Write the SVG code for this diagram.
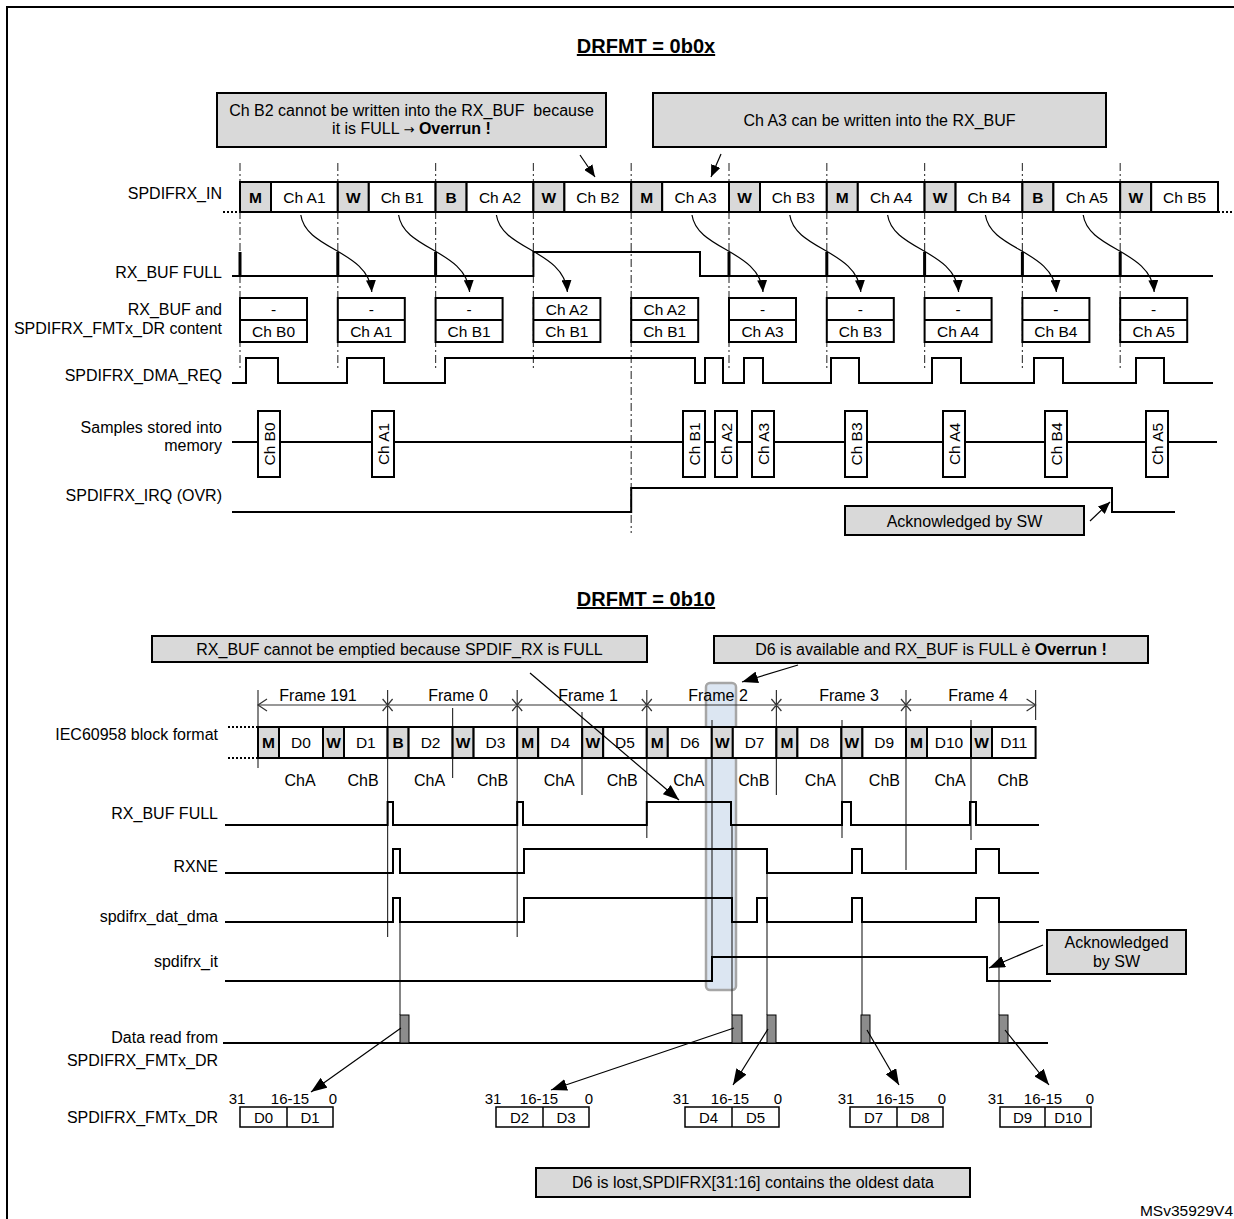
<svg xmlns="http://www.w3.org/2000/svg" width="1234" height="1219" viewBox="0 0 1234 1219">
<style>
text{font-family:"Liberation Sans",Arial,sans-serif;font-size:16px;fill:#000}
.lbl{text-anchor:end}
.c{text-anchor:middle;font-size:15.5px}
.b{font-weight:bold}
.ttl{text-anchor:middle;font-size:20px;font-weight:bold;text-decoration:underline}
.cell{fill:#fff;stroke:#000;stroke-width:2}
.pre{fill:#d9d9d9;stroke:#000;stroke-width:2}
.note{fill:#d9d9d9;stroke:#000;stroke-width:2}
.sig{fill:none;stroke:#000;stroke-width:2}
.spk{stroke:#000;stroke-width:3}
.dd{stroke:#444;stroke-width:1.2;stroke-dasharray:8 3 2 3}
.vl{stroke:#333;stroke-width:1.2}
.dot{stroke:#000;stroke-width:2;stroke-dasharray:2 2}
.arr{fill:none;stroke:#000;stroke-width:1.2;marker-end:url(#ah)}
.arr2{fill:none;stroke:#000;stroke-width:1.2;marker-end:url(#ah2)}
.rd{fill:#8c8c8c;stroke:#000;stroke-width:1}
.n{text-anchor:middle;font-size:15px}
</style>
<defs>
<marker id="ah" viewBox="0 0 12 10" refX="12" refY="5" markerWidth="12" markerHeight="10" markerUnits="userSpaceOnUse" orient="auto"><path d="M0,0 L12,5 L0,10 z" fill="#000"/></marker>
<marker id="ah2" viewBox="0 0 16 12" refX="16" refY="6" markerWidth="16" markerHeight="12" markerUnits="userSpaceOnUse" orient="auto"><path d="M0,0 L16,6 L0,12 z" fill="#000"/></marker>
</defs>
<rect x="0" y="0" width="1234" height="1219" fill="#fff"/>
<rect id="frame" x="7" y="7" width="1240" height="1240" fill="none" stroke="#000" stroke-width="2"/>

<!-- ================= TOP: DRFMT = 0b0x ================= -->
<g id="title-top"><text class="ttl" x="646" y="53">DRFMT = 0b0x</text></g>

<g id="note-b2">
<rect class="note" x="217" y="93" width="389" height="54"/>
<text class="c" x="411.5" y="116" style="font-size:16px" xml:space="preserve">Ch B2 cannot be written into the RX_BUF  because</text>
<text class="c" x="411.5" y="134" style="font-size:16px">it is FULL <tspan style="font-family:'DejaVu Sans',sans-serif;font-size:13px">→</tspan> <tspan class="b">Overrun !</tspan></text>
</g>
<g id="note-a3">
<rect class="note" x="653" y="93" width="453" height="54"/>
<text class="c" x="879.5" y="125.5" style="font-size:16px">Ch A3 can be written into the RX_BUF</text>
</g>

<g id="labels-top">
<text class="lbl" x="222" y="199">SPDIFRX_IN</text>
<text class="lbl" x="222" y="277.5">RX_BUF FULL</text>
<text class="lbl" x="222" y="314.5">RX_BUF and</text>
<text class="lbl" x="222" y="333.5">SPDIFRX_FMTx_DR content</text>
<text class="lbl" x="222" y="380.5">SPDIFRX_DMA_REQ</text>
<text class="lbl" x="222" y="432.5">Samples stored into</text>
<text class="lbl" x="222" y="450.5">memory</text>
<text class="lbl" x="222" y="500.5">SPDIFRX_IRQ (OVR)</text>
</g>

<g id="dashdot-top">
<line class="dd" x1="240" y1="163" x2="240" y2="370"/>
<line class="dd" x1="337.8" y1="163" x2="337.8" y2="370"/>
<line class="dd" x1="435.6" y1="163" x2="435.6" y2="370"/>
<line class="dd" x1="533.4" y1="163" x2="533.4" y2="370"/>
<line class="dd" x1="631.2" y1="163" x2="631.2" y2="533"/>
<line class="dd" x1="729" y1="163" x2="729" y2="370"/>
<line class="dd" x1="826.8" y1="163" x2="826.8" y2="370"/>
<line class="dd" x1="924.6" y1="163" x2="924.6" y2="370"/>
<line class="dd" x1="1022.4" y1="163" x2="1022.4" y2="370"/>
<line class="dd" x1="1120.2" y1="163" x2="1120.2" y2="370"/>
</g>

<g id="spdifrx-in">
<line class="dot" x1="223" y1="212" x2="240" y2="212"/>
<line class="dot" x1="1218" y1="212" x2="1234" y2="212"/>
<rect class="pre" x="240" y="182" width="31" height="30"/><text class="c b" x="255.5" y="202.5">M</text>
<rect class="cell" x="271" y="182" width="66.8" height="30"/><text class="c" x="304.4" y="202.5">Ch A1</text>
<rect class="pre" x="337.8" y="182" width="31" height="30"/><text class="c b" x="353.3" y="202.5">W</text>
<rect class="cell" x="368.8" y="182" width="66.8" height="30"/><text class="c" x="402.2" y="202.5">Ch B1</text>
<rect class="pre" x="435.6" y="182" width="31" height="30"/><text class="c b" x="451.1" y="202.5">B</text>
<rect class="cell" x="466.6" y="182" width="66.8" height="30"/><text class="c" x="500" y="202.5">Ch A2</text>
<rect class="pre" x="533.4" y="182" width="31" height="30"/><text class="c b" x="548.9" y="202.5">W</text>
<rect class="cell" x="564.4" y="182" width="66.8" height="30"/><text class="c" x="597.8" y="202.5">Ch B2</text>
<rect class="pre" x="631.2" y="182" width="31" height="30"/><text class="c b" x="646.7" y="202.5">M</text>
<rect class="cell" x="662.2" y="182" width="66.8" height="30"/><text class="c" x="695.6" y="202.5">Ch A3</text>
<rect class="pre" x="729" y="182" width="31" height="30"/><text class="c b" x="744.5" y="202.5">W</text>
<rect class="cell" x="760" y="182" width="66.8" height="30"/><text class="c" x="793.4" y="202.5">Ch B3</text>
<rect class="pre" x="826.8" y="182" width="31" height="30"/><text class="c b" x="842.3" y="202.5">M</text>
<rect class="cell" x="857.8" y="182" width="66.8" height="30"/><text class="c" x="891.2" y="202.5">Ch A4</text>
<rect class="pre" x="924.6" y="182" width="31" height="30"/><text class="c b" x="940.1" y="202.5">W</text>
<rect class="cell" x="955.6" y="182" width="66.8" height="30"/><text class="c" x="989" y="202.5">Ch B4</text>
<rect class="pre" x="1022.4" y="182" width="31" height="30"/><text class="c b" x="1037.9" y="202.5">B</text>
<rect class="cell" x="1053.4" y="182" width="66.8" height="30"/><text class="c" x="1086.8" y="202.5">Ch A5</text>
<rect class="pre" x="1120.2" y="182" width="31" height="30"/><text class="c b" x="1135.7" y="202.5">W</text>
<rect class="cell" x="1151.2" y="182" width="66.8" height="30"/><text class="c" x="1184.6" y="202.5">Ch B5</text>
</g>

<g id="rxbuf-full-top">
<path class="sig" d="M232,276 H533.4 V252 H700 V276 H1213"/>
<line class="spk" x1="240" y1="252" x2="240" y2="276"/>
<line class="spk" x1="337.8" y1="252" x2="337.8" y2="276"/>
<line class="spk" x1="435.6" y1="252" x2="435.6" y2="276"/>
<line class="spk" x1="729" y1="252" x2="729" y2="276"/>
<line class="spk" x1="826.8" y1="252" x2="826.8" y2="276"/>
<line class="spk" x1="924.6" y1="252" x2="924.6" y2="276"/>
<line class="spk" x1="1022.4" y1="252" x2="1022.4" y2="276"/>
<line class="spk" x1="1120.2" y1="252" x2="1120.2" y2="276"/>
</g>

<g id="rxbuf-content">
<g><rect class="cell" x="240" y="298" width="67" height="44"/><line class="sig" x1="240" y1="320" x2="307" y2="320"/><text class="c" x="273.5" y="314.5">-</text><text class="c" x="273.5" y="336.5">Ch B0</text></g>
<g><rect class="cell" x="337.8" y="298" width="67" height="44"/><line class="sig" x1="337.8" y1="320" x2="404.8" y2="320"/><text class="c" x="371.3" y="314.5">-</text><text class="c" x="371.3" y="336.5">Ch A1</text></g>
<g><rect class="cell" x="435.6" y="298" width="67" height="44"/><line class="sig" x1="435.6" y1="320" x2="502.6" y2="320"/><text class="c" x="469.1" y="314.5">-</text><text class="c" x="469.1" y="336.5">Ch B1</text></g>
<g><rect class="cell" x="533.4" y="298" width="67" height="44"/><line class="sig" x1="533.4" y1="320" x2="600.4" y2="320"/><text class="c" x="566.9" y="314.5">Ch A2</text><text class="c" x="566.9" y="336.5">Ch B1</text></g>
<g><rect class="cell" x="631.2" y="298" width="67" height="44"/><line class="sig" x1="631.2" y1="320" x2="698.2" y2="320"/><text class="c" x="664.7" y="314.5">Ch A2</text><text class="c" x="664.7" y="336.5">Ch B1</text></g>
<g><rect class="cell" x="729" y="298" width="67" height="44"/><line class="sig" x1="729" y1="320" x2="796" y2="320"/><text class="c" x="762.5" y="314.5">-</text><text class="c" x="762.5" y="336.5">Ch A3</text></g>
<g><rect class="cell" x="826.8" y="298" width="67" height="44"/><line class="sig" x1="826.8" y1="320" x2="893.8" y2="320"/><text class="c" x="860.3" y="314.5">-</text><text class="c" x="860.3" y="336.5">Ch B3</text></g>
<g><rect class="cell" x="924.6" y="298" width="67" height="44"/><line class="sig" x1="924.6" y1="320" x2="991.6" y2="320"/><text class="c" x="958.1" y="314.5">-</text><text class="c" x="958.1" y="336.5">Ch A4</text></g>
<g><rect class="cell" x="1022.4" y="298" width="67" height="44"/><line class="sig" x1="1022.4" y1="320" x2="1089.4" y2="320"/><text class="c" x="1055.9" y="314.5">-</text><text class="c" x="1055.9" y="336.5">Ch B4</text></g>
<g><rect class="cell" x="1120.2" y="298" width="67" height="44"/><line class="sig" x1="1120.2" y1="320" x2="1187.2" y2="320"/><text class="c" x="1153.7" y="314.5">-</text><text class="c" x="1153.7" y="336.5">Ch A5</text></g>
</g>

<g id="dma-req">
<path class="sig" d="M232,383 H246 V358 H278 V383 H347 V358 H384 V383 H445 V358 H695 V383 H705 V358 H723 V383 H744 V358 H763 V383 H831 V358 H859 V383 H932 V358 H961 V383 H1034 V358 H1063 V383 H1136 V358 H1164 V383 H1213"/>
</g>

<g id="samples">
<line class="sig" x1="232" y1="442" x2="1217" y2="442"/>
<g><rect class="cell" x="258" y="411" width="22" height="66"/><text class="c" transform="translate(269,444) rotate(-90)" y="5.5">Ch B0</text></g>
<g><rect class="cell" x="372" y="411" width="22" height="66"/><text class="c" transform="translate(383,444) rotate(-90)" y="5.5">Ch A1</text></g>
<g><rect class="cell" x="683" y="411" width="22" height="66"/><text class="c" transform="translate(694,444) rotate(-90)" y="5.5">Ch B1</text></g>
<g><rect class="cell" x="715" y="411" width="22" height="66"/><text class="c" transform="translate(726,444) rotate(-90)" y="5.5">Ch A2</text></g>
<g><rect class="cell" x="752" y="411" width="22" height="66"/><text class="c" transform="translate(763,444) rotate(-90)" y="5.5">Ch A3</text></g>
<g><rect class="cell" x="845" y="411" width="22" height="66"/><text class="c" transform="translate(856,444) rotate(-90)" y="5.5">Ch B3</text></g>
<g><rect class="cell" x="943" y="411" width="22" height="66"/><text class="c" transform="translate(954,444) rotate(-90)" y="5.5">Ch A4</text></g>
<g><rect class="cell" x="1045" y="411" width="22" height="66"/><text class="c" transform="translate(1056,444) rotate(-90)" y="5.5">Ch B4</text></g>
<g><rect class="cell" x="1146" y="411" width="22" height="66"/><text class="c" transform="translate(1157,444) rotate(-90)" y="5.5">Ch A5</text></g>
</g>

<g id="irq">
<path class="sig" d="M232,512 H631.2 V488 H1112 V512 H1175"/>
</g>

<g id="note-ack-top">
<rect class="note" x="845" y="506" width="239" height="29"/>
<text class="c" x="964.5" y="526.5" style="font-size:16px">Acknowledged by SW</text>
</g>

<!-- ================= BOTTOM: DRFMT = 0b10 ================= -->
<g id="title-bottom"><text class="ttl" x="646" y="606">DRFMT = 0b10</text></g>

<g id="highlight"><rect x="706" y="683" width="30" height="307" rx="4" fill="#dce6f2" stroke="#a6a6a6" stroke-width="2.5"/></g>

<g id="note-empty">
<rect class="note" x="152" y="636" width="495" height="26"/>
<text class="c" x="399.5" y="654.5" style="font-size:16px">RX_BUF cannot be emptied because SPDIF_RX is FULL</text>
</g>
<g id="note-d6">
<rect class="note" x="714" y="636" width="434" height="27"/>
<text class="c" x="931" y="655" style="font-size:16px">D6 is available and RX_BUF is FULL è <tspan class="b">Overrun !</tspan></text>
</g>

<g id="labels-bottom">
<text class="lbl" x="218" y="740">IEC60958 block format</text>
<text class="lbl" x="218" y="818.5">RX_BUF FULL</text>
<text class="lbl" x="218" y="871.5">RXNE</text>
<text class="lbl" x="218" y="922">spdifrx_dat_dma</text>
<text class="lbl" x="218" y="967">spdifrx_it</text>
<text class="lbl" x="218" y="1043">Data read from</text>
<text class="lbl" x="218" y="1066">SPDIFRX_FMTx_DR</text>
<text class="lbl" x="218" y="1122.5">SPDIFRX_FMTx_DR</text>
</g>

<g id="frames">
<text class="c" x="318" y="701" style="font-size:16px">Frame 191</text>
<text class="c" x="458" y="701" style="font-size:16px">Frame 0</text>
<text class="c" x="588" y="701" style="font-size:16px">Frame 1</text>
<text class="c" x="718" y="701" style="font-size:16px">Frame 2</text>
<text class="c" x="849" y="701" style="font-size:16px">Frame 3</text>
<text class="c" x="978" y="701" style="font-size:16px">Frame 4</text>
<line class="vl" x1="258" y1="705" x2="1035.6" y2="705"/>
<path class="vl" fill="none" d="M267,699 L258,705 L267,711 M1026.6,699 L1035.6,705 L1026.6,711"/>
<path class="vl" fill="none" d="M382.6,699 L392.6,711 M382.6,711 L392.6,699 M512.2,699 L522.2,711 M512.2,711 L522.2,699 M641.8,699 L651.8,711 M641.8,711 L651.8,699 M771.4,699 L781.4,711 M771.4,711 L781.4,699 M901,699 L911,711 M901,711 L911,699"/>
</g>

<g id="vlines-bottom">
<line class="vl" x1="258" y1="690" x2="258" y2="768"/>
<line class="vl" x1="387.6" y1="690" x2="387.6" y2="937"/>
<line class="vl" x1="452.6" y1="708" x2="452.6" y2="778"/>
<line class="vl" x1="517.2" y1="690" x2="517.2" y2="937"/>
<line class="vl" x1="582" y1="712" x2="582" y2="795"/>
<line class="vl" x1="646.8" y1="690" x2="646.8" y2="838"/>
<line class="vl" x1="712" y1="720" x2="712" y2="957"/>
<line class="vl" x1="732" y1="825" x2="732" y2="1015"/>
<line class="vl" x1="776.4" y1="690" x2="776.4" y2="795"/>
<line class="vl" x1="842" y1="720" x2="842" y2="838"/>
<line class="vl" x1="906" y1="690" x2="906" y2="870"/>
<line class="vl" x1="971" y1="720" x2="971" y2="840"/>
<line class="vl" x1="1035.6" y1="690" x2="1035.6" y2="720"/>
<line class="vl" x1="400" y1="898" x2="400" y2="1015"/>
<line class="vl" x1="767" y1="873" x2="767" y2="1015"/>
<line class="vl" x1="862" y1="898" x2="862" y2="1015"/>
<line class="vl" x1="999" y1="898" x2="999" y2="1015"/>
</g>

<g id="iec-block">
<line class="dot" x1="228" y1="727" x2="258" y2="727"/>
<line class="dot" x1="228" y1="758" x2="258" y2="758"/>
<rect class="pre" x="258" y="727" width="21" height="31"/><text class="c b" x="268.5" y="748">M</text>
<rect class="cell" x="279" y="727" width="44" height="31"/><text class="c" x="301" y="748">D0</text>
<rect class="pre" x="323" y="727" width="21" height="31"/><text class="c b" x="333.5" y="748">W</text>
<rect class="cell" x="344" y="727" width="43.6" height="31"/><text class="c" x="365.8" y="748">D1</text>
<rect class="pre" x="387.6" y="727" width="21" height="31"/><text class="c b" x="398.1" y="748">B</text>
<rect class="cell" x="408.6" y="727" width="44" height="31"/><text class="c" x="430.6" y="748">D2</text>
<rect class="pre" x="452.6" y="727" width="21" height="31"/><text class="c b" x="463.1" y="748">W</text>
<rect class="cell" x="473.6" y="727" width="43.6" height="31"/><text class="c" x="495.4" y="748">D3</text>
<rect class="pre" x="517.2" y="727" width="21" height="31"/><text class="c b" x="527.7" y="748">M</text>
<rect class="cell" x="538.2" y="727" width="44" height="31"/><text class="c" x="560.2" y="748">D4</text>
<rect class="pre" x="582.2" y="727" width="21" height="31"/><text class="c b" x="592.7" y="748">W</text>
<rect class="cell" x="603.2" y="727" width="43.6" height="31"/><text class="c" x="625" y="748">D5</text>
<rect class="pre" x="646.8" y="727" width="21" height="31"/><text class="c b" x="657.3" y="748">M</text>
<rect class="cell" x="667.8" y="727" width="44" height="31"/><text class="c" x="689.8" y="748">D6</text>
<rect class="pre" x="711.8" y="727" width="21" height="31"/><text class="c b" x="722.3" y="748">W</text>
<rect class="cell" x="732.8" y="727" width="43.6" height="31"/><text class="c" x="754.6" y="748">D7</text>
<rect class="pre" x="776.4" y="727" width="21" height="31"/><text class="c b" x="786.9" y="748">M</text>
<rect class="cell" x="797.4" y="727" width="44" height="31"/><text class="c" x="819.4" y="748">D8</text>
<rect class="pre" x="841.4" y="727" width="21" height="31"/><text class="c b" x="851.9" y="748">W</text>
<rect class="cell" x="862.4" y="727" width="43.6" height="31"/><text class="c" x="884.2" y="748">D9</text>
<rect class="pre" x="906" y="727" width="21" height="31"/><text class="c b" x="916.5" y="748">M</text>
<rect class="cell" x="927" y="727" width="44" height="31"/><text class="c" x="949" y="748">D10</text>
<rect class="pre" x="971" y="727" width="21" height="31"/><text class="c b" x="981.5" y="748">W</text>
<rect class="cell" x="992" y="727" width="43.6" height="31"/><text class="c" x="1013.8" y="748">D11</text>
</g>

<g id="ch-labels">
<text class="c" x="300" y="785.5" style="font-size:16px">ChA</text>
<text class="c" x="363" y="785.5" style="font-size:16px">ChB</text>
<text class="c" x="429.6" y="785.5" style="font-size:16px">ChA</text>
<text class="c" x="492.6" y="785.5" style="font-size:16px">ChB</text>
<text class="c" x="559.2" y="785.5" style="font-size:16px">ChA</text>
<text class="c" x="622.2" y="785.5" style="font-size:16px">ChB</text>
<text class="c" x="688.8" y="785.5" style="font-size:16px">ChA</text>
<text class="c" x="753.8" y="785.5" style="font-size:16px">ChB</text>
<text class="c" x="820.4" y="785.5" style="font-size:16px">ChA</text>
<text class="c" x="884.4" y="785.5" style="font-size:16px">ChB</text>
<text class="c" x="950" y="785.5" style="font-size:16px">ChA</text>
<text class="c" x="1013" y="785.5" style="font-size:16px">ChB</text>
</g>

<g id="rxbuf-full-bottom"><path class="sig" d="M225,825 H387.6 V802 H393 V825 H517.2 V802 H523 V825 H646.8 V802 H731 V825 H842 V802 H851 V825 H970 V802 H976 V825 H1039"/></g>
<g id="rxne"><path class="sig" d="M225,873 H393 V849 H400 V873 H524 V849 H767 V873 H852 V849 H862 V873 H976 V849 H999 V873 H1039"/></g>
<g id="dat-dma"><path class="sig" d="M225,922 H393 V898 H400 V922 H524 V898 H732 V922 H757 V898 H767 V922 H852 V898 H862 V922 H976 V898 H999 V922 H1039"/></g>
<g id="spdifrx-it"><path class="sig" d="M225,981 H712 V957 H987 V981 H1051"/></g>

<g id="note-ack-bottom">
<rect class="note" x="1047" y="930" width="139" height="44"/>
<text class="c" x="1116.5" y="948" style="font-size:16px">Acknowledged</text>
<text class="c" x="1116.5" y="967" style="font-size:16px">by SW</text>
</g>

<g id="data-read">
<line class="sig" x1="223" y1="1043" x2="1048" y2="1043"/>
<rect class="rd" x="400" y="1015" width="9" height="28"/>
<rect class="rd" x="732" y="1015" width="10" height="28"/>
<rect class="rd" x="767" y="1015" width="9" height="28"/>
<rect class="rd" x="861" y="1015" width="9" height="28"/>
<rect class="rd" x="999" y="1015" width="9" height="28"/>
</g>

<g id="registers">
<g><rect class="cell" x="240" y="1107" width="93" height="20" style="stroke-width:1.5"/><line class="vl" x1="287" y1="1107" x2="287" y2="1127" style="stroke:#000;stroke-width:1.5"/>
<text class="n" x="237" y="1104">31</text><text class="n" x="290" y="1104">16-15</text><text class="n" x="333" y="1104">0</text>
<text class="n" x="263.5" y="1122.5">D0</text><text class="n" x="310" y="1122.5">D1</text></g>
<g><rect class="cell" x="496" y="1107" width="93" height="20" style="stroke-width:1.5"/><line class="vl" x1="543" y1="1107" x2="543" y2="1127" style="stroke:#000;stroke-width:1.5"/>
<text class="n" x="493" y="1104">31</text><text class="n" x="539" y="1104">16-15</text><text class="n" x="589" y="1104">0</text>
<text class="n" x="519.5" y="1122.5">D2</text><text class="n" x="566" y="1122.5">D3</text></g>
<g><rect class="cell" x="685" y="1107" width="94" height="20" style="stroke-width:1.5"/><line class="vl" x1="732" y1="1107" x2="732" y2="1127" style="stroke:#000;stroke-width:1.5"/>
<text class="n" x="681" y="1104">31</text><text class="n" x="730" y="1104">16-15</text><text class="n" x="778" y="1104">0</text>
<text class="n" x="708.5" y="1122.5">D4</text><text class="n" x="755.5" y="1122.5">D5</text></g>
<g><rect class="cell" x="850" y="1107" width="93" height="20" style="stroke-width:1.5"/><line class="vl" x1="897" y1="1107" x2="897" y2="1127" style="stroke:#000;stroke-width:1.5"/>
<text class="n" x="846" y="1104">31</text><text class="n" x="895" y="1104">16-15</text><text class="n" x="942" y="1104">0</text>
<text class="n" x="873.5" y="1122.5">D7</text><text class="n" x="920" y="1122.5">D8</text></g>
<g><rect class="cell" x="1000" y="1107" width="91" height="20" style="stroke-width:1.5"/><line class="vl" x1="1045" y1="1107" x2="1045" y2="1127" style="stroke:#000;stroke-width:1.5"/>
<text class="n" x="996" y="1104">31</text><text class="n" x="1043" y="1104">16-15</text><text class="n" x="1090" y="1104">0</text>
<text class="n" x="1022.5" y="1122.5">D9</text><text class="n" x="1068" y="1122.5">D10</text></g>
</g>

<g id="note-lost">
<rect class="note" x="536" y="1168" width="434" height="29"/>
<text class="c" x="753" y="1188" style="font-size:16px">D6 is lost,SPDIFRX[31:16] contains the oldest data</text>
</g>

<g id="ref"><text x="1233" y="1216" style="text-anchor:end;font-size:15.5px">MSv35929V4</text></g>

<!-- ================= CONNECTORS ================= -->
<g id="connectors">
<line class="arr" x1="580" y1="155" x2="595" y2="177"/>
<line class="arr" x1="721" y1="154" x2="711" y2="177"/>
<path class="arr" d="M300.8,215 C305.8,250 368.8,250 371.8,292"/>
<path class="arr" d="M398.6,215 C403.6,250 466.6,250 469.6,292"/>
<path class="arr" d="M496.4,215 C501.4,250 564.4,250 567.4,292"/>
<path class="arr" d="M692,215 C697,250 760,250 763,292"/>
<path class="arr" d="M789.8,215 C794.8,250 857.8,250 860.8,292"/>
<path class="arr" d="M887.6,215 C892.6,250 955.6,250 958.6,292"/>
<path class="arr" d="M985.4,215 C990.4,250 1053.4,250 1056.4,292"/>
<path class="arr" d="M1083.2,215 C1088.2,250 1151.2,250 1154.2,292"/>
<line class="arr" x1="1090" y1="521" x2="1110" y2="502"/>
<line class="arr2" x1="798" y1="665" x2="742" y2="682"/>
<line class="arr2" x1="530" y1="673" x2="679" y2="800"/>
<line class="arr2" x1="1043" y1="945" x2="989" y2="968"/>
<line class="arr2" x1="401" y1="1028" x2="311" y2="1092"/>
<line class="arr2" x1="734" y1="1028" x2="551" y2="1090"/>
<line class="arr2" x1="768" y1="1029" x2="733" y2="1085"/>
<line class="arr2" x1="867" y1="1030" x2="899" y2="1085"/>
<line class="arr2" x1="1005" y1="1030" x2="1049" y2="1085"/>
</g>
</svg>
